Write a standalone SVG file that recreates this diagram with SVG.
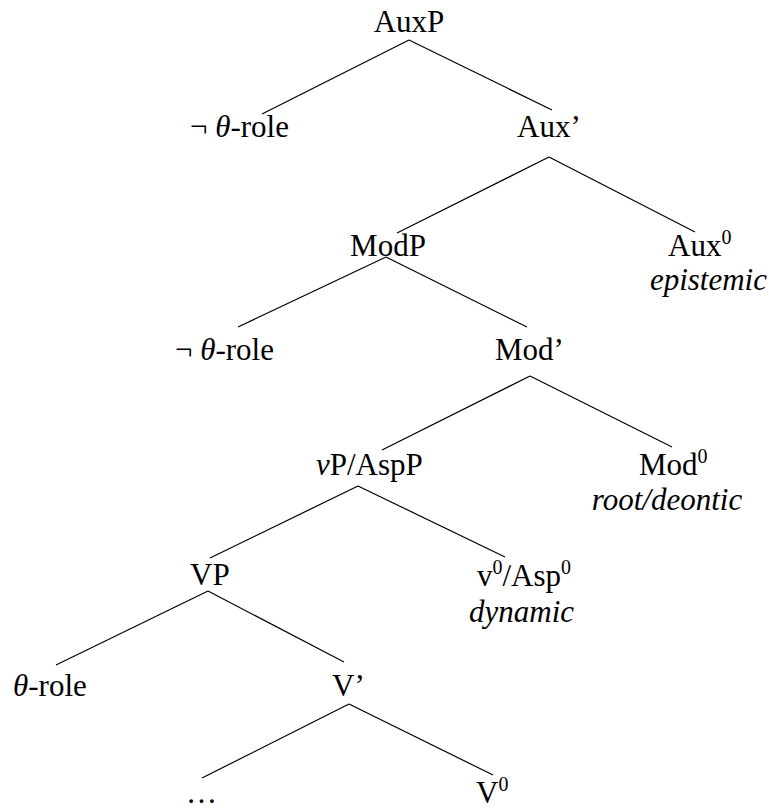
<svg xmlns="http://www.w3.org/2000/svg" width="769" height="809" viewBox="0 0 769 809">
<style>
text{font-family:'Liberation Serif','Times New Roman',serif;font-size:31px;fill:#000}
.i{font-style:italic}
.sup{font-size:20px}
#edges line{stroke:#000;stroke-width:1.2}
</style>
<rect width="769" height="809" fill="#fff"/>
<g id="edges">
<line x1="409" y1="40" x2="262" y2="114"/>
<line x1="409" y1="40" x2="552" y2="110"/>
<line x1="549" y1="157" x2="397" y2="233"/>
<line x1="549" y1="157" x2="695" y2="232"/>
<line x1="386" y1="257" x2="238" y2="327"/>
<line x1="386" y1="257" x2="527" y2="327"/>
<line x1="530" y1="376" x2="382" y2="450"/>
<line x1="530" y1="376" x2="672" y2="447"/>
<line x1="358" y1="486" x2="210" y2="558"/>
<line x1="358" y1="486" x2="505" y2="557"/>
<line x1="208" y1="591" x2="56" y2="665"/>
<line x1="208" y1="591" x2="344" y2="662"/>
<line x1="349" y1="704" x2="202" y2="778"/>
<line x1="349" y1="704" x2="493" y2="775"/>
</g>
<g id="AuxP"><text x="409" y="32" text-anchor="middle">AuxP</text></g>
<g id="spec1"><text x="190" y="137">¬ <tspan class="i">θ</tspan>-role</text></g>
<g id="AuxBar"><text x="517" y="137">Aux’</text></g>
<g id="ModP"><text x="388" y="256" text-anchor="middle">ModP</text></g>
<g id="Aux0"><text x="668" y="256">Aux<tspan class="sup" dy="-12">0</tspan></text><text x="767" y="290" text-anchor="end" class="i">epistemic</text></g>
<g id="spec2"><text x="175" y="360">¬ <tspan class="i">θ</tspan>-role</text></g>
<g id="ModBar"><text x="495" y="360">Mod’</text></g>
<g id="vP"><text x="316" y="475"><tspan class="i">v</tspan>P/AspP</text></g>
<g id="Mod0"><text x="639" y="475">Mod<tspan class="sup" dy="-12">0</tspan></text><text x="667" y="510" text-anchor="middle" class="i">root/deontic</text></g>
<g id="VP"><text x="190" y="585">VP</text></g>
<g id="v0"><text x="477" y="586">v<tspan class="sup" dy="-12">0</tspan><tspan dy="12">/Asp</tspan><tspan class="sup" dy="-12">0</tspan></text><text x="469" y="622" class="i">dynamic</text></g>
<g id="spec3"><text x="13" y="696"><tspan class="i">θ</tspan>-role</text></g>
<g id="VBar"><text x="332" y="696">V’</text></g>
<g id="dots"><text x="186" y="803">…</text></g>
<g id="V0"><text x="476" y="803">V<tspan class="sup" dy="-12">0</tspan></text></g>
</svg>
